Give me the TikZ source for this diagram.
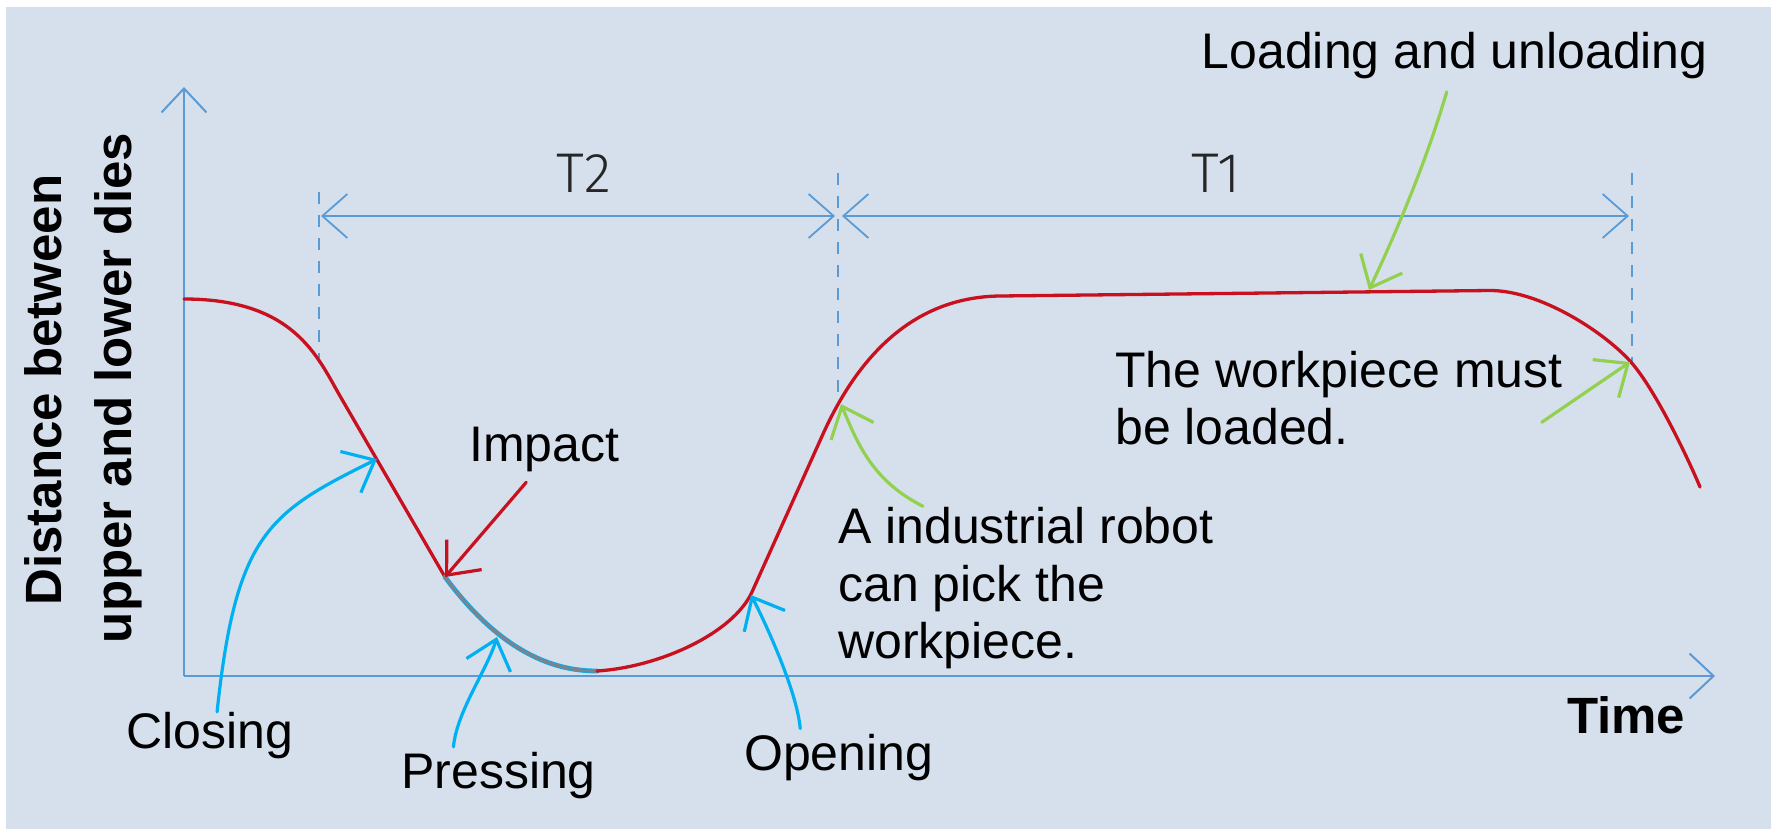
\documentclass[tikz,border=0pt]{standalone}
\usepackage{fontspec}
\setmainfont{Liberation Sans}
\newfontfamily\thinfont{Fira Sans Light}
\usetikzlibrary{arrows.meta,calc}

\definecolor{bgpanel}{RGB}{214,224,236}
\definecolor{axisblue}{RGB}{91,155,213}
\definecolor{curvered}{RGB}{200,16,30}
\definecolor{callcyan}{RGB}{0,176,240}
\definecolor{callgreen}{RGB}{146,208,80}
\definecolor{pressgray}{RGB}{122,132,145}
\definecolor{labelgray}{RGB}{38,38,38}

\begin{document}
\begin{tikzpicture}[x=1pt,y=-1pt,
  axisline/.style={draw=axisblue, line width=2pt,
    -{Straight Barb[length=24pt,width=45pt]}},
  dimline/.style={draw=axisblue, line width=1.8pt,
    {Straight Barb[length=25pt,width=44pt]}-{Straight Barb[length=25pt,width=44pt]}},
  guide/.style={draw=axisblue, line width=1.7pt, dash pattern=on 11.7pt off 11.3pt},
  callout/.style={line width=3.2pt, line cap=round,
    -{Straight Barb[length=27pt,width=46pt]}},
  curveline/.style={draw=curvered, line width=3.3pt, line join=round, line cap=round},
  note/.style={inner sep=0pt, font=\fontsize{50}{57.4}\selectfont, align=left, text=black},
  boldnote/.style={inner sep=0pt, font=\bfseries\fontsize{51}{60}\selectfont, text=black},
  tlabel/.style={inner sep=0pt, font=\thinfont\fontsize{56}{60}\selectfont, text=labelgray},
]
% canvas
\useasboundingbox (0,0) rectangle (1771,829);
\fill[white] (0,0) rectangle (1771,829);
\fill[bgpanel] (6,7) rectangle (1771,829);

% reference points
\coordinate (origin) at (184,676);
\coordinate (ytop) at (184,87);
\coordinate (xend) at (1715,676);

\coordinate (guideAtop) at (319,192);
\coordinate (guideA) at (319,358);
\coordinate (guideBtop) at (838,173);
\coordinate (guideB) at (838,403);
\coordinate (guideCtop) at (1632,173);
\coordinate (guideC) at (1632,362);

\coordinate (t2a) at (321,216);
\coordinate (t2b) at (835,216);
\coordinate (t1a) at (842,216);
\coordinate (t1b) at (1629,216);

\coordinate (tipClose) at (377,459);
\coordinate (tipImpact) at (445,577);
\coordinate (tipPress) at (497,637);
\coordinate (tipOpen) at (751,595);
\coordinate (tipRobot) at (841,404);
\coordinate (tipLoad) at (1369,290);
\coordinate (tipMust) at (1630,362);

% axes
\draw[axisline] (origin) -- (ytop);
\draw[axisline] (origin) -- (xend);

% guide lines and time spans
\draw[guide] (guideAtop) -- (guideA);
\draw[guide] (guideBtop) -- (guideB);
\draw[guide] (guideCtop) -- (guideC);
\draw[dimline] (t2a) -- (t2b);
\draw[dimline] (t1a) -- (t1b);
\node[tlabel, anchor=base] (lblT2) at (584,193) {T2};
\node[tlabel, anchor=base] (lblT1) at (1216,193) {T1};

% die distance curve: closing, pressing (highlighted), opening, dwell, next closing
\draw[curveline] (184,299) .. controls (294,299) and (317.6,357) .. (340,396) -- (445,577);
\draw[draw=callcyan, line width=4.8pt, line cap=round]
  (445,577) .. controls (505,658) and (560,671) .. (597,671);
\draw[draw=pressgray, line width=3.2pt, line cap=round]
  (445,577) .. controls (505,658) and (560,671) .. (597,671);
\draw[curveline] (597,671) .. controls (660,667) and (733.4,633) .. (752,592)
  -- (823,434) .. controls (856,361) and (910,297) .. (1000,296)
  -- (1490,290.5) .. controls (1540,290.5) and (1603,331.4) .. (1630,361)
  .. controls (1656.9,390.6) and (1692.4,468.5) .. (1700,487);

% axis titles
\node[boldnote, rotate=90, anchor=base] (ylabA) at (61.7,390) {Distance between};
\node[boldnote, rotate=90, anchor=base] (ylabB) at (131.7,388) {upper and lower dies};
\node[boldnote, anchor=base west] (timelbl) at (1567,733.3) {Time};

% annotations
\node[note, anchor=base west] (impact) at (469,461.7) {Impact};
\node[note, anchor=base west] (closing) at (126.5,748.3) {Closing};
\node[note, anchor=base west] (pressing) at (401,788.3) {Pressing};
\node[note, anchor=base west] (opening) at (744,770) {Opening};
\node[note, anchor=base west] (loading) at (1201.5,68.3) {Loading and unloading};
\node[note, anchor=north west] (robot) at (838,507.3) {A industrial robot\\can pick the\\workpiece.};
\node[note, anchor=north west] (must) at (1115,350.7) {The workpiece must\\be loaded.};

% callout arrows
\draw[callout, callcyan] ([xshift=7pt]closing.north)
  .. controls (236,533) and (269,512.6) .. (tipClose);
\draw[callout, curvered] ([xshift=-18pt,yshift=-10pt]impact.south) -- (tipImpact);
\draw[callout, callcyan] ([xshift=-45pt,yshift=5pt]pressing.north)
  .. controls (456.5,712) and (487,670) .. (tipPress);
\draw[callout, callcyan] ([xshift=-38.5pt,yshift=5pt]opening.north)
  .. controls (797,690) and (763,618) .. (tipOpen);
\draw[callout, callgreen] ([xshift=85pt,yshift=1pt]robot.north west)
  .. controls (873,481) and (858,445) .. (tipRobot);
\draw[callout, callgreen] ([xshift=-8pt,yshift=-13pt]loading.south)
  .. controls (1427.5,157) and (1401,222) .. (tipLoad);
\draw[callout, callgreen] ([xshift=-21pt,yshift=23pt]must.south east) -- (tipMust);
\end{tikzpicture}
\end{document}
